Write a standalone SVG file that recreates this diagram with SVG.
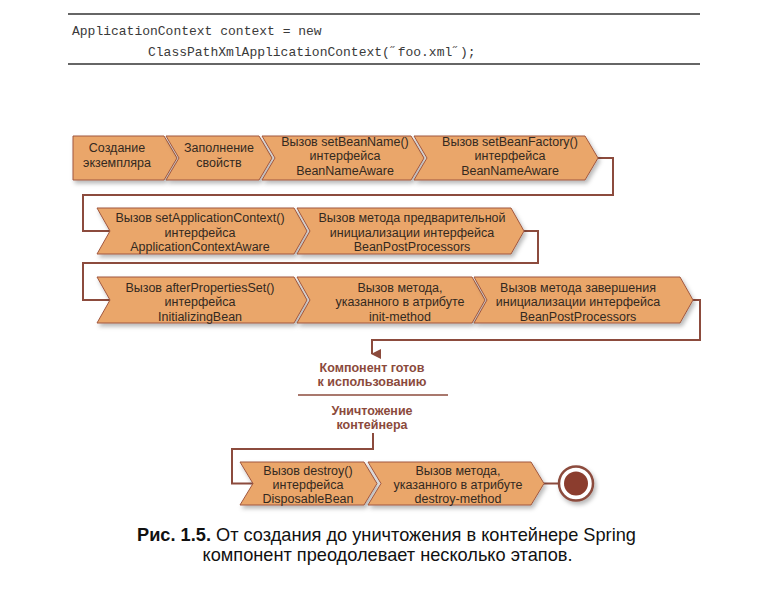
<svg xmlns="http://www.w3.org/2000/svg" width="781" height="610" viewBox="0 0 781 610">
<defs>
<filter id="sh" x="-10%" y="-20%" width="130%" height="160%">
<feDropShadow dx="2" dy="3" stdDeviation="2" flood-color="#000" flood-opacity="0.28"/>
</filter>
<marker id="ah" markerWidth="10" markerHeight="10" refX="5" refY="9" orient="auto" markerUnits="userSpaceOnUse" viewBox="0 0 10 10">
<path d="M0,0 L10,0 L5,10 Z" fill="#8c4b3d"/>
</marker>
</defs>
<style>
.code{font-family:"Liberation Mono","DejaVu Sans Mono",monospace;font-size:13px;fill:#3a3a3a}
.rule{stroke:#333;stroke-width:1.4}
.shp{fill:#eaa66a;stroke:#a0573f;stroke-width:1;filter:url(#sh)}
.t{font-family:"Liberation Sans",Arial,sans-serif;font-size:12.5px;fill:#33291f;text-anchor:middle}
.m{font-family:"Liberation Sans",Arial,sans-serif;font-size:12.5px;font-weight:bold;fill:#8b4a3c;text-anchor:middle}
.c{fill:none;stroke:#8c4b3d;stroke-width:2}
.cap{font-family:"Liberation Sans",Arial,sans-serif;font-size:18.2px;fill:#111;text-anchor:middle}
.b{font-weight:bold}
</style>
<rect width="781" height="610" fill="#fff"/>

<g id="code">
<line class="rule" x1="68" y1="14" x2="700" y2="14"/>
<text class="code" x="72" y="35">ApplicationContext context = new</text>
<text class="code" x="148" y="56">ClassPathXmlApplicationContext(˝foo.xml˝);</text>
<line class="rule" x1="68" y1="64" x2="700" y2="64"/>
</g>

<g id="connectors">
<polyline class="c" points="598,158 613,158 613,195 83,195 83,231 110,231"/>
<polyline class="c" points="524,231 538,231 538,263 83,263 83,300 110,300"/>
<polyline class="c" points="693,300 700,300 700,340 372,340 372,354" marker-end="url(#ah)"/>
<line x1="298" y1="395" x2="448" y2="395" stroke="#8c4b3d" stroke-width="1.5"/>
<polyline class="c" points="373,433 373,449 232,449 232,483.5 253,483.5"/>
<line class="c" x1="544" y1="483.5" x2="559" y2="483.5"/>
</g>

<g id="n1">
<polygon class="shp" points="73,136 164,136 177,158 164,180 73,180"/>
<text class="t" x="117" y="152">Создание</text>
<text class="t" x="117" y="166.5">экземпляра</text>
</g>
<g id="n2">
<polygon class="shp" points="166,136 259,136 272,158 259,180 166,180 179,158"/>
<text class="t" x="219" y="152">Заполнение</text>
<text class="t" x="219" y="166.5">свойств</text>
</g>
<g id="n3">
<polygon class="shp" points="262,136 411,136 424,158 411,180 262,180 275,158"/>
<text class="t" x="345" y="145.5">Вызов setBeanName()</text>
<text class="t" x="345" y="160">интерфейса</text>
<text class="t" x="345" y="174.5">BeanNameAware</text>
</g>
<g id="n4">
<polygon class="shp" points="414,136 585,136 598,158 585,180 414,180 427,158"/>
<text class="t" x="510" y="145.5">Вызов setBeanFactory()</text>
<text class="t" x="510" y="160">интерфейса</text>
<text class="t" x="510" y="174.5">BeanNameAware</text>
</g>

<g id="n5">
<polygon class="shp" points="97,208 294,208 307,231 294,254 97,254 110,231"/>
<text class="t" x="200" y="222">Вызов setApplicationContext()</text>
<text class="t" x="200" y="236.5">интерфейса</text>
<text class="t" x="200" y="251">ApplicationContextAware</text>
</g>
<g id="n6">
<polygon class="shp" points="297,208 511,208 524,231 511,254 297,254 310,231"/>
<text class="t" x="412" y="222">Вызов метода предварительной</text>
<text class="t" x="412" y="236.5">инициализации интерфейса</text>
<text class="t" x="412" y="251">BeanPostProcessors</text>
</g>

<g id="n7">
<polygon class="shp" points="97,277 294,277 307,300 294,323 97,323 110,300"/>
<text class="t" x="200" y="291.5">Вызов afterPropertiesSet()</text>
<text class="t" x="200" y="306">интерфейса</text>
<text class="t" x="200" y="320.5">InitializingBean</text>
</g>
<g id="n8">
<polygon class="shp" points="297,277 472,277 485,300 472,323 297,323 310,300"/>
<text class="t" x="400" y="291.5">Вызов метода,</text>
<text class="t" x="400" y="306">указанного в атрибуте</text>
<text class="t" x="400" y="320.5">init-method</text>
</g>
<g id="n9">
<polygon class="shp" points="474,277 680,277 693,300 680,323 474,323 487,300"/>
<text class="t" x="578" y="291.5">Вызов метода завершения</text>
<text class="t" x="578" y="306">инициализации интерфейса</text>
<text class="t" x="578" y="320.5">BeanPostProcessors</text>
</g>

<g id="ready">
<text class="m" x="372" y="371.5">Компонент готов</text>
<text class="m" x="372" y="386">к использованию</text>
</g>
<g id="destroy">
<text class="m" x="372" y="414.5">Уничтожение</text>
<text class="m" x="372" y="429">контейнера</text>
</g>

<g id="n10">
<polygon class="shp" points="240,462 364,462 377,483.5 364,505 240,505 253,483.5"/>
<text class="t" x="308" y="474.5">Вызов destroy()</text>
<text class="t" x="308" y="488.5">интерфейса</text>
<text class="t" x="308" y="502.5">DisposableBean</text>
</g>
<g id="n11">
<polygon class="shp" points="368,462 531,462 544,483.5 531,505 368,505 381,483.5"/>
<text class="t" x="458" y="474.5">Вызов метода,</text>
<text class="t" x="458" y="488.5">указанного в атрибуте</text>
<text class="t" x="458" y="502.5">destroy-method</text>
</g>
<g id="end">
<circle cx="576" cy="483.5" r="17" fill="#fff" stroke="#8c4b3d" stroke-width="2.5" filter="url(#sh)"/>
<circle cx="576" cy="483.5" r="12" fill="#8b3d2e"/>
</g>

<g id="caption">
<text class="cap" x="386.5" y="541"><tspan class="b">Рис. 1.5.</tspan> От создания до уничтожения в контейнере Spring</text>
<text class="cap" x="387.5" y="561">компонент преодолевает несколько этапов.</text>
</g>
</svg>
